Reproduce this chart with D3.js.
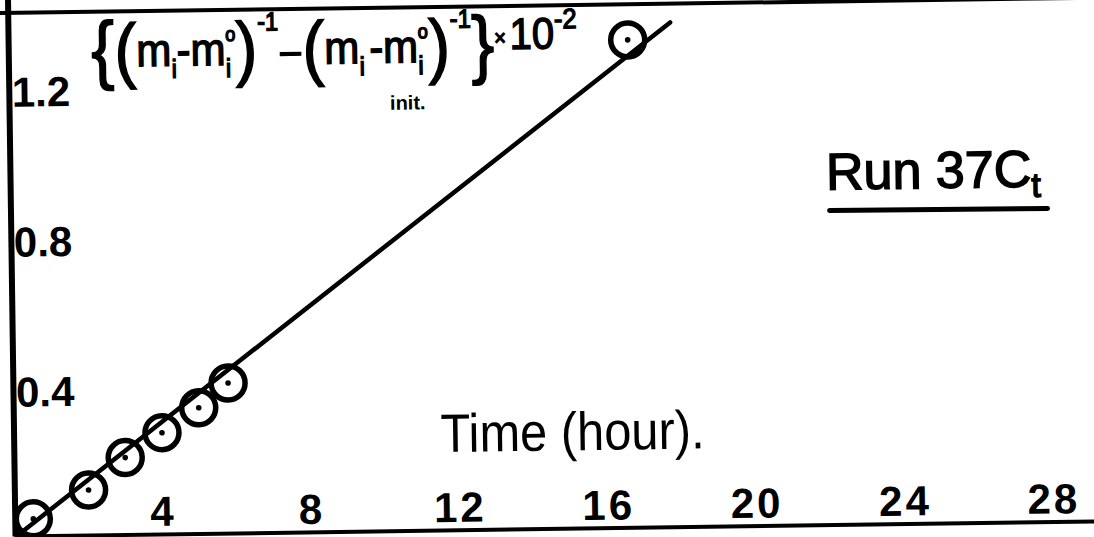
<!DOCTYPE html>
<html>
<head>
<meta charset="utf-8">
<script src="https://cdn.jsdelivr.net/npm/d3@7/dist/d3.min.js"></script>
<style>
  html, body { margin: 0; padding: 0; background: #fff; }
  svg { display: block; }
</style>
</head>
<body>
<svg id="chart" width="1094" height="537"></svg>
<script>
// Run 37Ct: reciprocal concentration difference against time
const times = [0.5, 2, 3, 4, 5, 5.8, 16.7];
const values = [0.045, 0.12, 0.205, 0.27, 0.335, 0.40, 1.30];

// straight line drawn through the points
const fitTimes = [0.05, 17.85];
const fitValues = [0.0, 1.345];

const xTicks = [4, 8, 12, 16, 20, 24, 28];
const yTicks = [0.4, 0.8, 1.2];
const frameTop = 1.395;

const W = 1094, H = 537;
const originX = 15, originY = 536;
const pxPerHour = 37.1, pxPerUnit = 375;

const svg = d3.select("#chart");
svg.append("rect").attr("width", W).attr("height", H).attr("fill", "#fff");

// the whole sheet sits slightly askew
const g = svg.append("g")
  .attr("transform", `rotate(-0.8, ${originX}, ${originY})`);

const x = d3.scaleLinear().domain([0, 29.6]).range([originX, originX + pxPerHour * 29.6]);
const y = d3.scaleLinear().domain([0, 1.45]).range([originY, originY - pxPerUnit * 1.45]);

const font = "'Liberation Sans', Arial, sans-serif";

// bottom axis: labels sit above the line
const xAxis = g.append("g")
  .attr("transform", `translate(0,${originY})`)
  .call(d3.axisTop(x).tickValues(xTicks).tickSize(0).tickSizeOuter(0).tickPadding(8)
        .tickFormat(d3.format("d")));
xAxis.select(".domain").attr("stroke", "#000").attr("stroke-width", 4);
xAxis.selectAll("text")
  .attr("fill", "#000")
  .attr("font-family", font)
  .attr("font-weight", "bold")
  .attr("font-size", 42)
  .attr("letter-spacing", 3);

// left axis: labels just inside the line
const yAxis = g.append("g")
  .attr("transform", `translate(${originX},0)`)
  .call(d3.axisRight(y).tickValues(yTicks).tickSize(0).tickSizeOuter(0).tickPadding(3)
        .tickFormat(d3.format(".1f")));
yAxis.select(".domain").attr("stroke", "#000").attr("stroke-width", 6);
yAxis.selectAll("text")
  .attr("fill", "#000")
  .attr("font-family", font)
  .attr("font-weight", "bold")
  .attr("font-size", 42)
  .attr("dy", "0.48em");

// top border of the frame
g.append("line")
  .attr("x1", x(0) - 8).attr("x2", x(29.6))
  .attr("y1", y(frameTop)).attr("y2", y(frameTop))
  .attr("stroke", "#000").attr("stroke-width", 4);

// fitted line
const line = d3.line().x(d => x(d[0])).y(d => y(d[1]));
g.append("path")
  .datum(d3.zip(fitTimes, fitValues))
  .attr("d", line)
  .attr("fill", "none")
  .attr("stroke", "#000")
  .attr("stroke-width", 4.5)
  .attr("stroke-linecap", "round");

// observed points: ringed dots
const pts = d3.zip(times, values);
const pg = g.append("g");
pg.selectAll("circle.ring").data(pts).join("circle")
  .attr("class", "ring")
  .attr("cx", d => x(d[0])).attr("cy", d => y(d[1]))
  .attr("r", 17)
  .attr("fill", "none").attr("stroke", "#000").attr("stroke-width", 5.5);
pg.selectAll("circle.dot").data(pts).join("circle")
  .attr("class", "dot")
  .attr("cx", d => x(d[0])).attr("cy", d => y(d[1]))
  .attr("r", 2.8).attr("fill", "#000");

// ordinate expression, squeezed to its width
const exprG = g.append("g");
const expr = exprG.append("text")
  .attr("x", 0).attr("y", 68)
  .attr("font-family", font)
  .attr("fill", "#000")
  .attr("stroke", "#000").attr("stroke-width", 1.4);
const pieces = [
  { t: "{", s: 76, lift: 8 },
  { t: "(", s: 72, lift: 8 },
  { t: "m", s: 46, lift: 0 },
  { t: "i", s: 26, lift: 12 },
  { t: "-m", s: 46, lift: 0 },
  { t: "i", s: 26, lift: 12 },
  { t: "o", s: 20, lift: -24, dx: -6 },
  { t: ")", s: 72, lift: 8 },
  { t: "-1", s: 26, lift: -34 },
  { t: "–", s: 40, lift: 0, dx: 2 },
  { t: "(", s: 72, lift: 8, dx: 2 },
  { t: "m", s: 46, lift: 0 },
  { t: "i", s: 26, lift: 12 },
  { t: "-m", s: 46, lift: 0, dx: 5 },
  { t: "i", s: 26, lift: 12 },
  { t: "o", s: 20, lift: -24, dx: -6 },
  { t: ")", s: 72, lift: 8 },
  { t: "-1", s: 26, lift: -34 },
  { t: "}", s: 76, lift: 8 },
  { t: "×", s: 22, lift: -16 },
  { t: "10", s: 44, lift: -12, dx: 4 },
  { t: "-2", s: 28, lift: -32 }
];
let prev = 0;
pieces.forEach(p => {
  expr.append("tspan")
    .attr("font-size", p.s)
    .attr("dy", p.lift - prev)
    .attr("dx", p.dx || 0)
    .text(p.t);
  prev = p.lift;
});
const eb = expr.node().getBBox();
const exprLeft = 98, exprWidth = 486;
exprG.attr("transform", `translate(${exprLeft - eb.x * exprWidth / eb.width},0) scale(${exprWidth / eb.width},1)`);

g.append("text")
  .attr("x", 396).attr("y", 115)
  .attr("font-family", font).attr("font-weight", "bold")
  .attr("font-size", 20)
  .attr("fill", "#000")
  .text("init.");

// abscissa title, narrow like the lettering
const titleG = g.append("g");
const title = titleG.append("text")
  .attr("x", 0).attr("y", 0)
  .attr("font-family", font)
  .attr("font-size", 54)
  .attr("fill", "#000")
  .text("Time (hour).");
const tb = title.node().getBBox();
titleG.attr("transform", `translate(442,458) scale(${264 / tb.width},1)`);

// run label with underline
const run = g.append("text")
  .attr("x", 831).attr("y", 201)
  .attr("font-family", font)
  .attr("font-size", 52)
  .attr("fill", "#000")
  .attr("stroke", "#000").attr("stroke-width", 1.5);
run.append("tspan").text("Run 37C");
run.append("tspan").attr("font-size", 34).attr("dy", 10).text("t");
g.append("line")
  .attr("x1", 834).attr("x2", 1052)
  .attr("y1", 222).attr("y2", 223)
  .attr("stroke", "#000").attr("stroke-width", 5)
  .attr("stroke-linecap", "round");
</script>
</body>
</html>
